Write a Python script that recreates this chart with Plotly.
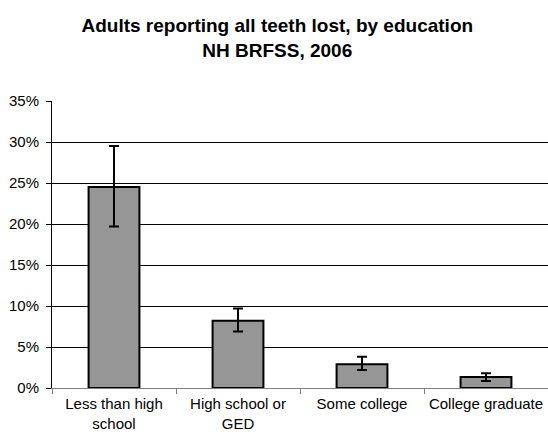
import plotly.graph_objects as go

categories = ["Less than high<br>school", "High school or<br>GED", "Some college", "College graduate"]
values = [24.5, 8.2, 2.9, 1.35]
err_upper = [29.5, 9.7, 3.8, 1.8]
err_lower = [19.7, 6.9, 2.2, 0.85]

plus = [u - v for u, v in zip(err_upper, values)]
minus = [v - l for v, l in zip(values, err_lower)]

fig = go.Figure()
fig.add_trace(go.Bar(
    x=categories, y=values, width=0.41,
    marker=dict(color="#969696", line=dict(color="black", width=2)),
    error_y=dict(type="data", symmetric=False, array=plus, arrayminus=minus,
                 color="black", thickness=2, width=5),
))

fig.update_layout(
    width=548, height=436,
    margin=dict(l=52, r=0, t=101, b=48),
    paper_bgcolor="white", plot_bgcolor="white",
    font=dict(family="Liberation Sans, Arial, sans-serif", size=15, color="black"),
    title=dict(text="<b>Adults reporting all teeth lost, by education<br>NH BRFSS, 2006</b>",
               x=0.506, xanchor="center", y=0.926, yanchor="middle",
               font=dict(size=19, color="black")),
    showlegend=False,
)
fig.update_yaxes(range=[0, 35], dtick=5, ticksuffix="%", showgrid=True, gridcolor="black",
                 gridwidth=1, showline=True, linecolor="black", linewidth=1,
                 ticks="outside", ticklen=5, tickcolor="black", zeroline=False,
                 ticklabelstandoff=4, tickfont=dict(size=15))
fig.update_xaxes(showline=True, linecolor="#808080", linewidth=1, ticks="outside",
                 tickson="boundaries", ticklen=5, tickcolor="#808080",
                 ticklabelstandoff=2, tickfont=dict(size=15))

fig.write_html("out.html")
